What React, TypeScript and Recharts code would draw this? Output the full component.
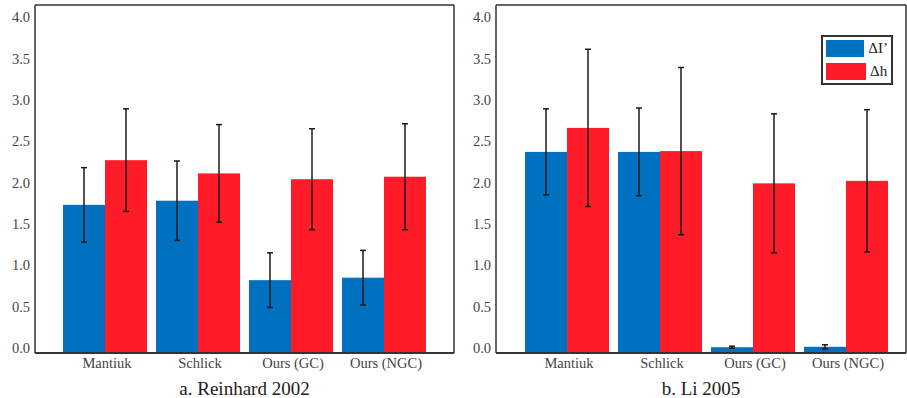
import { Bar, BarChart, CartesianGrid, ErrorBar, Legend, XAxis, YAxis } from "recharts"

const categories = ["Mantiuk", "Schlick", "Ours (GC)", "Ours (NGC)"]
const yTicks = [0, 0.5, 1, 1.5, 2, 2.5, 3, 3.5, 4]

// a. Reinhard 2002
const reinhardDeltaI = [1.73, 1.78, 0.82, 0.85]
const reinhardDeltaIErr = [0.45, 0.48, 0.33, 0.33]
const reinhardDeltaH = [2.27, 2.11, 2.04, 2.07]
const reinhardDeltaHErr = [0.62, 0.59, 0.61, 0.64]

// b. Li 2005
const liDeltaI = [2.37, 2.37, 0.01, 0.015]
const liDeltaIErr = [0.52, 0.53, 0.012, 0.025]
const liDeltaH = [2.66, 2.38, 1.99, 2.02]
const liDeltaHErr = [0.95, 1.01, 0.84, 0.86]

const BLUE = "#0070c0"
const RED = "#ff1c28"
const FRAME = "#333"
const SERIF = "'Liberation Serif', 'Times New Roman', serif"

const buildRows = (di: number[], diErr: number[], dh: number[], dhErr: number[]) =>
  categories.map((name, i) => ({
    name,
    dI: di[i],
    dIErr: diErr[i],
    dH: dh[i],
    dHErr: dhErr[i]
  }))

// bars in the original run down to the frame, a bit below zero
const FullBar = (p: any) => {
  const bottom = p.background ? p.background.y + p.background.height : p.y + p.height
  return <rect x={p.x} y={p.y} width={p.width} height={Math.max(0, bottom - p.y)} fill={p.fill} />
}

const LegendBox = (props: any) => {
  const items = props.payload || []
  return (
    <div
      style={{
        border: `2px solid ${FRAME}`,
        background: "#fff",
        padding: "0 3px",
        width: 72,
        boxSizing: "border-box"
      }}
    >
      {items.map((it: any) => (
        <div key={it.value} style={{ display: "flex", alignItems: "center", height: 23 }}>
          <span style={{ display: "inline-block", width: 40, height: 17, background: it.color }} />
          <span style={{ marginLeft: 4, fontSize: 15, fontFamily: SERIF, color: "#222" }}>{it.value}</span>
        </div>
      ))}
    </div>
  )
}

type PanelProps = {
  rows: any[]
  title: string
  width: number
  yWidth: number
  marginRight: number
  padLeft: number
  padRight: number
  legend?: boolean
}

const Panel = ({ rows, title, width, yWidth, marginRight, padLeft, padRight, legend }: PanelProps) => {
  const tickStyle = { fill: "#444", fontSize: 14.5, fontFamily: SERIF }
  return (
    <BarChart
      width={width}
      height={398}
      data={rows}
      margin={{ top: 5, right: marginRight, bottom: 0, left: 0 }}
      barCategoryGap={4.5}
      barGap={0}
    >
      {/* top and right edges of the frame */}
      <CartesianGrid
        stroke={FRAME}
        strokeWidth={1.5}
        fill="none"
        horizontalCoordinatesGenerator={(p: any) => [p.offset.top]}
        verticalCoordinatesGenerator={(p: any) => [p.offset.left + p.offset.width]}
      />
      <XAxis
        dataKey="name"
        height={45}
        padding={{ left: padLeft, right: padRight }}
        axisLine={{ stroke: FRAME, strokeWidth: 2 }}
        tickLine={false}
        tickSize={3}
        tickMargin={2}
        tick={tickStyle}
        dx={2}
        label={{ value: title, position: "insideBottom", offset: 3, fill: "#222", fontSize: 19, fontFamily: SERIF }}
      />
      <YAxis
        type="number"
        width={yWidth}
        domain={[-0.06, 4.145]}
        ticks={yTicks}
        tickFormatter={(v: number) => v.toFixed(1)}
        axisLine={{ stroke: FRAME, strokeWidth: 1.5 }}
        tickLine={false}
        tickSize={3}
        tickMargin={2}
        tick={tickStyle}
      />
      {legend && (
        <Legend
          layout="vertical"
          align="center"
          verticalAlign="middle"
          content={LegendBox}
          wrapperStyle={{ position: "absolute", left: 364, top: 35, width: 72, height: 50 }}
        />
      )}
      <Bar dataKey="dI" name="ΔI’" fill={BLUE} shape={FullBar} isAnimationActive={false}>
        <ErrorBar dataKey="dIErr" width={3} stroke="#1a1a1a" strokeWidth={1.5} direction="y" />
      </Bar>
      <Bar dataKey="dH" name="Δh" fill={RED} shape={FullBar} isAnimationActive={false}>
        <ErrorBar dataKey="dHErr" width={3} stroke="#1a1a1a" strokeWidth={1.5} direction="y" />
      </Bar>
    </BarChart>
  )
}

const App = () => {
  const reinhardRows = buildRows(reinhardDeltaI, reinhardDeltaIErr, reinhardDeltaH, reinhardDeltaHErr)
  const liRows = buildRows(liDeltaI, liDeltaIErr, liDeltaH, liDeltaHErr)
  return (
    <div
      style={{
        position: "absolute",
        left: 0,
        top: 0,
        width: 907,
        height: 398,
        overflow: "hidden",
        background: "#fff"
      }}
    >
      <div style={{ position: "absolute", left: 0, top: 0 }}>
        <Panel
          rows={reinhardRows}
          title="a. Reinhard 2002"
          width={460}
          yWidth={35}
          marginRight={6}
          padLeft={23.5}
          padRight={23.5}
        />
      </div>
      <div style={{ position: "absolute", left: 457, top: 0 }}>
        <Panel
          rows={liRows}
          title="b. Li 2005"
          width={450}
          yWidth={39}
          marginRight={1}
          padLeft={24.5}
          padRight={13.5}
          legend
        />
      </div>
    </div>
  )
}

export default App
